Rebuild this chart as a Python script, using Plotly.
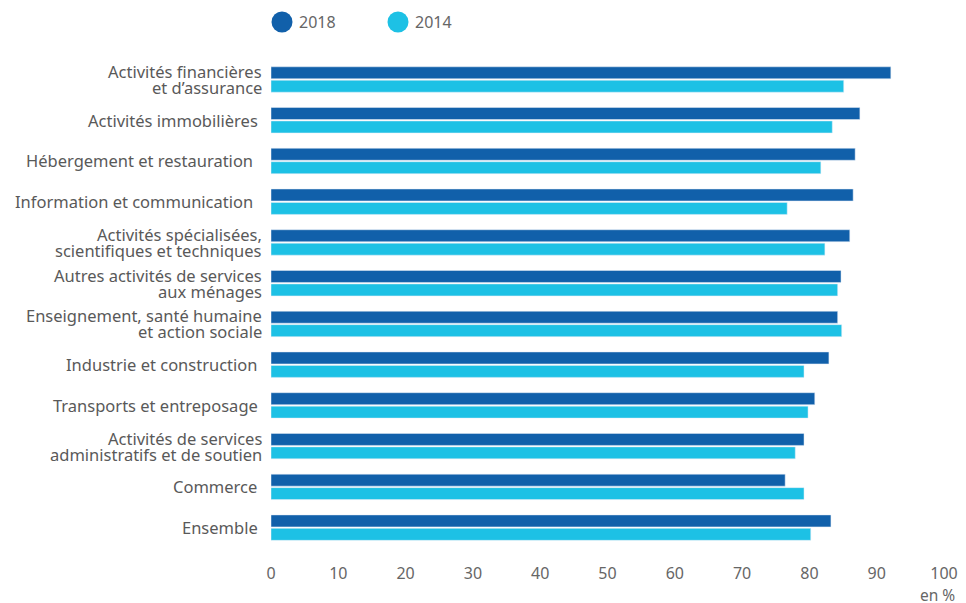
import plotly.graph_objects as go

NB = "\u00a0"
categories = [
    "Activités financières<br>et d’assurance",
    "Activités immobilières" + NB,
    "Hébergement et restauration" + NB * 2,
    "Information et communication" + NB * 2,
    "Activités spécialisées,<br>scientifiques et techniques",
    "Autres activités de services<br>aux ménages",
    "Enseignement, santé humaine<br>et action sociale",
    "Industrie et construction" + NB,
    "Transports et entreposage" + NB,
    "Activités de services<br>administratifs et de soutien",
    "Commerce" + NB,
    "Ensemble" + NB,
]
values_2018 = [92.1, 87.5, 86.8, 86.5, 86.0, 84.7, 84.2, 82.9, 80.8, 79.2, 76.4, 83.2]
values_2014 = [85.1, 83.4, 81.7, 76.7, 82.3, 84.2, 84.8, 79.2, 79.8, 77.9, 79.2, 80.2]
x_ticks = [0, 10, 20, 30, 40, 50, 60, 70, 80, 90, 100]
series_names = ["2018", "2014"]

C2018 = "#1160aa"
C2014 = "#1dc1e5"
FONT = "Noto Sans, Open Sans, sans-serif"
GREY = "#666666"
LABEL = "#595959"

fig = go.Figure()
fig.add_trace(go.Bar(y=categories, x=values_2018, orientation="h", name=series_names[0],
                     marker_color=C2018, showlegend=False))
fig.add_trace(go.Bar(y=categories, x=values_2014, orientation="h", name=series_names[1],
                     marker_color=C2014, showlegend=False))

annotations = []
# category labels, each line placed separately for tight line spacing
for cat in categories:
    lines = cat.split("<br>")
    n = len(lines)
    for i, line in enumerate(lines):
        shift = (n - 1) / 2 * 16 - i * 16
        annotations.append(dict(
            text=line, xref="paper", yref="y", x=0, y=cat, xanchor="right",
            yanchor="middle", xshift=-7, yshift=shift, showarrow=False,
            font=dict(family=FONT, size=16.5, color=LABEL)))

# manual legend with large circles
shapes = []
legend_pos = [(0.01635, 0.0386), (0.1887, 0.2110)]
for (cx, tx), name, col in zip(legend_pos, series_names, [C2018, C2014]):
    shapes.append(dict(type="circle", xref="paper", yref="paper",
                       xsizemode="pixel", ysizemode="pixel",
                       xanchor=cx, yanchor=1.0735,
                       x0=-10.5, x1=10.5, y0=-10.5, y1=10.5,
                       fillcolor=col, line=dict(width=0)))
    annotations.append(dict(text=name, xref="paper", yref="paper", x=tx, y=1.0735,
                            xanchor="left", yanchor="middle", showarrow=False,
                            font=dict(family=FONT, size=16, color=GREY)))

annotations.append(dict(text="en %", xref="paper", yref="paper", x=1.019, y=-0.095,
                        xanchor="right", yanchor="middle", showarrow=False,
                        font=dict(family=FONT, size=15.5, color=GREY)))

fig.update_layout(
    width=966, height=603,
    margin=dict(l=271, r=22, t=58, b=55),
    paper_bgcolor="white", plot_bgcolor="white",
    barmode="group", bargap=0.34, bargroupgap=0.11,
    font=dict(family=FONT, size=15, color=GREY),
    showlegend=False,
    xaxis=dict(range=[0, 100], tickvals=x_ticks, showgrid=False, zeroline=False,
               showline=False, ticks="", ticklabelstandoff=14,
               tickfont=dict(size=16, color=GREY), automargin=False,
               fixedrange=True),
    yaxis=dict(autorange="reversed", showgrid=False, showline=False, ticks="",
               showticklabels=False, automargin=False, fixedrange=True),
    shapes=shapes,
    annotations=annotations,
)

fig.write_html("out.html", config={"displayModeBar": False},
               post_script="document.body.style.margin='0';document.body.style.overflow='hidden';")
